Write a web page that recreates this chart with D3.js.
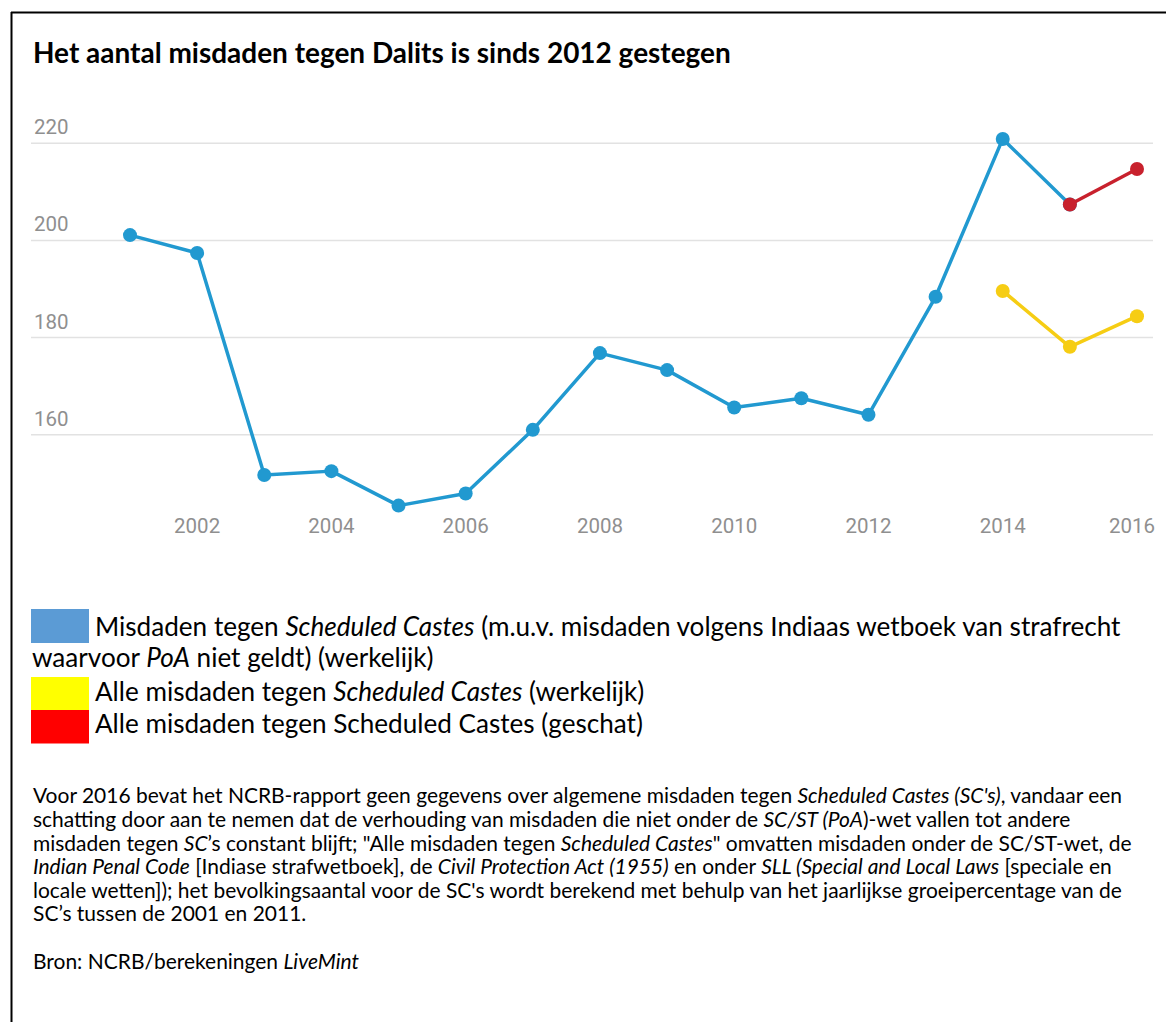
<!DOCTYPE html>
<html>
<head>
<meta charset="utf-8">
<script src="https://cdn.jsdelivr.net/npm/d3@7"></script>
<style>
  html, body { margin: 0; padding: 0; background: #fff; }
  svg { display: block; }
</style>
</head>
<body>
<svg id="chart" width="1166" height="1022"></svg>
<script>
// ---- data ----
const blueYears = [2001, 2002, 2003, 2004, 2005, 2006, 2007, 2008, 2009, 2010, 2011, 2012, 2013, 2014, 2015];
const blueValues = [201.1, 197.4, 151.7, 152.5, 145.4, 147.9, 161.0, 176.8, 173.3, 165.6, 167.5, 164.1, 188.4, 220.9, 207.4];
const yellowYears = [2014, 2015, 2016];
const yellowValues = [189.6, 178.1, 184.4];
const redYears = [2015, 2016];
const redValues = [207.4, 214.7];
const xTicks = [2002, 2004, 2006, 2008, 2010, 2012, 2014, 2016];
const yTicks = [160, 180, 200, 220];

const titleText = "Het aantal misdaden tegen Dalits is sinds 2012 gestegen";
const legendNames = [
  "Misdaden tegen Scheduled Castes (m.u.v. misdaden volgens Indiaas wetboek van strafrecht waarvoor PoA niet geldt) (werkelijk)",
  "Alle misdaden tegen Scheduled Castes (werkelijk)",
  "Alle misdaden tegen Scheduled Castes (geschat)"
];
const legendColors = ["#5b9bd5", "#ffff00", "#ff0000"];
// legend lines as [text, italic] segments
const legendLines = [
  [["Misdaden tegen ", 0], ["Scheduled Castes", 1], [" (m.u.v. misdaden volgens Indiaas wetboek van strafrecht", 0]],
  [["waarvoor ", 0], ["PoA", 1], [" niet geldt) (werkelijk)", 0]],
  [["Alle misdaden tegen ", 0], ["Scheduled Castes", 1], [" (werkelijk)", 0]],
  [["Alle misdaden tegen Scheduled Castes (geschat)", 0]]
];
const noteLines = [
  [["Voor 2016 bevat het NCRB-rapport geen gegevens over algemene misdaden tegen ", 0], ["Scheduled Castes (SC's)", 1], [", vandaar een", 0]],
  [["schatting door aan te nemen dat de verhouding van misdaden die niet onder de ", 0], ["SC/ST (PoA", 1], [")-wet vallen tot andere", 0]],
  [["misdaden tegen ", 0], ["SC", 1], ["\u2019s constant blijft; \"Alle misdaden tegen ", 0], ["Scheduled Castes", 1], ["\" omvatten misdaden onder de SC/ST-wet, de", 0]],
  [["Indian Penal Code", 1], [" [Indiase strafwetboek], de ", 0], ["Civil Protection Act (1955)", 1], [" en onder ", 0], ["SLL (Special and Local Laws", 1], [" [speciale en", 0]],
  [["locale wetten]); het bevolkingsaantal voor de SC's wordt berekend met behulp van het jaarlijkse groeipercentage van de", 0]],
  [["SC\u2019s tussen de 2001 en 2011.", 0]]
];
const sourceLine = [["Bron: NCRB/berekeningen ", 0], ["LiveMint", 1]];

// ---- drawing ----
const svg = d3.select("#chart");
const FONT = "Lato, 'Open Sans', sans-serif";

// frame (top and left border)
svg.append("line").attr("x1", 11).attr("x2", 1166).attr("y1", 12.5).attr("y2", 12.5)
  .attr("stroke", "#000").attr("stroke-width", 2);
svg.append("line").attr("x1", 11.5).attr("x2", 11.5).attr("y1", 12).attr("y2", 1022)
  .attr("stroke", "#000").attr("stroke-width", 2);

function fitText(sel, target) {
  const fs = parseFloat(sel.attr("font-size"));
  const w = sel.node().getComputedTextLength();
  return fs * target / w;
}

// title
const title = svg.append("text").attr("x", 33).attr("y", 63)
  .attr("font-family", FONT).attr("font-weight", 700).attr("font-size", 24)
  .attr("fill", "#000").text(titleText);
title.attr("font-size", fitText(title, 698));

// scales
const x = d3.scaleLinear().domain([2001, 2016]).range([130, 1137]);
const y = d3.scaleLinear().domain([160, 220]).range([434.7, 143.3]);

// gridlines + y labels
const gy = svg.append("g");
gy.selectAll("line").data(yTicks).join("line")
  .attr("x1", 31).attr("x2", 1153)
  .attr("y1", d => y(d)).attr("y2", d => y(d))
  .attr("stroke", "#e2e2e2").attr("stroke-width", 1.5);
gy.selectAll("text").data(yTicks).join("text")
  .attr("x", 34).attr("y", d => y(d) - 9)
  .attr("font-family", "Roboto, sans-serif").attr("font-size", 20.5)
  .attr("fill", "#8f8f8f").text(d => d);

// x labels
svg.append("g").selectAll("text").data(xTicks).join("text")
  .attr("x", d => d === 2016 ? 1155 : x(d)).attr("y", 533)
  .attr("text-anchor", d => d === 2016 ? "end" : "middle")
  .attr("font-family", "Roboto, sans-serif").attr("font-size", 20.5)
  .attr("fill", "#8f8f8f").text(d => d);

// series
const series = [
  { years: blueYears, values: blueValues, color: "#2199d0" },
  { years: yellowYears, values: yellowValues, color: "#f6cd14" },
  { years: redYears, values: redValues, color: "#c8212d" }
];
const line = d3.line().x(d => x(d[0])).y(d => y(d[1]));
series.forEach(s => {
  const pts = s.years.map((yr, i) => [yr, s.values[i]]);
  const g = svg.append("g");
  g.append("path").attr("d", line(pts)).attr("fill", "none")
    .attr("stroke", s.color).attr("stroke-width", 3.5).attr("stroke-linejoin", "round");
  g.selectAll("circle").data(pts).join("circle")
    .attr("cx", d => x(d[0])).attr("cy", d => y(d[1])).attr("r", 7)
    .attr("fill", s.color);
});

// rich text helper
function richLine(parent, segs, xPos, yPos, size) {
  const t = parent.append("text").attr("x", xPos).attr("y", yPos)
    .attr("font-family", FONT).attr("font-size", size).attr("fill", "#000");
  segs.forEach(([txt, it]) => {
    t.append("tspan").attr("font-style", it ? "italic" : "normal").text(txt);
  });
  return t;
}

// legend swatches
const swatchY = [609, 677, 710];
svg.append("g").selectAll("rect").data(legendColors).join("rect")
  .attr("x", 31).attr("y", (d, i) => swatchY[i]).attr("width", 58)
  .attr("height", (d, i) => i === 0 ? 34 : 33.5).attr("fill", d => d)
  .append("title").text((d, i) => legendNames[i]);

const legendX = [95, 32, 95, 95];
const legendY = [636, 667, 701, 733];
const lg = svg.append("g");
const legTexts = legendLines.map((segs, i) => richLine(lg, segs, legendX[i], legendY[i], 22));
const legSize = fitText(legTexts[0], 1121 - 95);
legTexts.forEach(t => t.attr("font-size", legSize));

// footnote
const noteY = [803, 827, 850.5, 874, 897.5, 921];
const ng = svg.append("g");
const noteTexts = noteLines.map((segs, i) => richLine(ng, segs, 33, noteY[i], 16));
const noteSize = fitText(noteTexts[0], 1123 - 33);
noteTexts.forEach(t => t.attr("font-size", noteSize));
const src = richLine(ng, sourceLine, 33, 969, noteSize);
</script>
</body>
</html>
